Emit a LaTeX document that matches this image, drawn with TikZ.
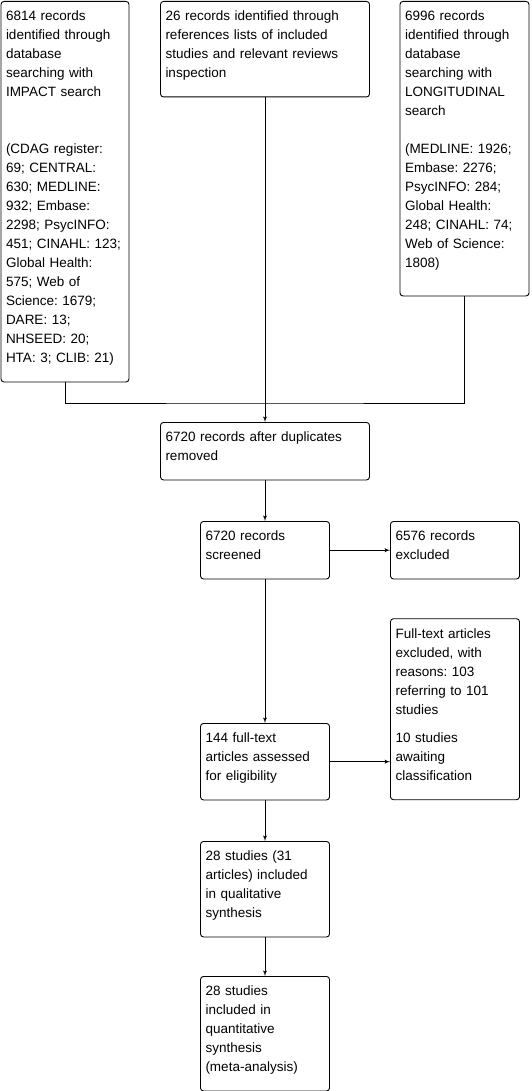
\documentclass[tikz,border=0pt]{standalone}
\usepackage{fontspec}
\setmainfont{Liberation Sans}
\usepackage{tikz}
\usetikzlibrary{arrows}
\usetikzlibrary{positioning}
\frenchspacing
\newcommand{\topstrut}{\rule{0pt}{13.5pt}}
\newcommand{\botstrut}[1][13pt]{\rule[-#1]{0pt}{0pt}}
\tikzstyle{every node}+=[inner sep=0pt]
\tikzstyle{block} = [rectangle, draw, font=\fontsize{13.5}{19}\selectfont, rounded corners=3pt, inner xsep=5pt, inner ysep=6pt, text width=119pt, execute at begin node=\topstrut, execute at end node=\botstrut]
\tikzstyle{line} = [draw, -latex']
\begin{document}
\begin{tikzpicture}[x=1pt, y=-1pt, line width=0.9pt, every text node part/.style={align=left}]
            \useasboundingbox (0,0) rectangle (532,1091);
            % Place nodes
            \node [block, anchor=north, text width=118pt] (a) at (65,1) {6814 records\\identified through\\database\\searching with\\IMPACT search\\[38pt](CDAG register:\\69; CENTRAL:\\630; MEDLINE:\\932; Embase:\\2298; PsycINFO:\\451; CINAHL: 123;\\Global Health:\\575; Web of\\Science: 1679;\\DARE: 13;\\NHSEED: 20;\\HTA: 3; CLIB: 21)};
            \node [block, anchor=north, text width=199pt] (b) at (265,1) {26 records identified through\\references lists of included\\studies and relevant reviews\\inspection};
            \node [block, anchor=north, execute at end node={\botstrut[22pt]}] (c) at (464.5,1) {6996 records\\identified through\\database\\searching with\\LONGITUDINAL\\search\\[19pt](MEDLINE: 1926;\\Embase: 2276;\\PsycINFO: 284;\\Global Health:\\248; CINAHL: 74;\\Web of Science:\\1808)};
            \node [block, text width=199pt, below of=b, node distance=402pt] (d) {6720 records after duplicates\\removed};
            \node [block, below of=d, node distance=99pt] (e) {6720 records\\screened};
            \node [block, right of=e, node distance=190pt] (f) {6576 records\\excluded};
            \node [block, below of=f, node distance=159pt] (g) {Full-text articles\\excluded, with\\reasons: 103\\referring to 101\\studies\\[9.5pt]10 studies\\awaiting\\classification};
            \node [block, below of=e, node distance=211.5pt] (h) {144 full-text\\articles assessed\\for eligibility};
            \node [block, below of=h, node distance=127.5pt] (i) {28 studies (31\\articles) included\\in qualitative\\synthesis};
            \node [block, below of=i, node distance=144.5pt] (j) {28 studies\\included in\\quantitative\\synthesis\\(meta-analysis)};
            \coordinate (m) at (265,403);
            % Draw edges
            \draw (a.south) |- (m) -| (c.south);
            \path [line] (b) -- (d);
            \path [line] (d) -- (e);
            \path [line] (e) -- (f);
            \path [line] (e) -- (h);
            \path [line] (h) -- (h -| g.west);
            \path [line] (h) -- (i);
            \path [line] (i) -- (j);
          \end{tikzpicture}
\end{document}
